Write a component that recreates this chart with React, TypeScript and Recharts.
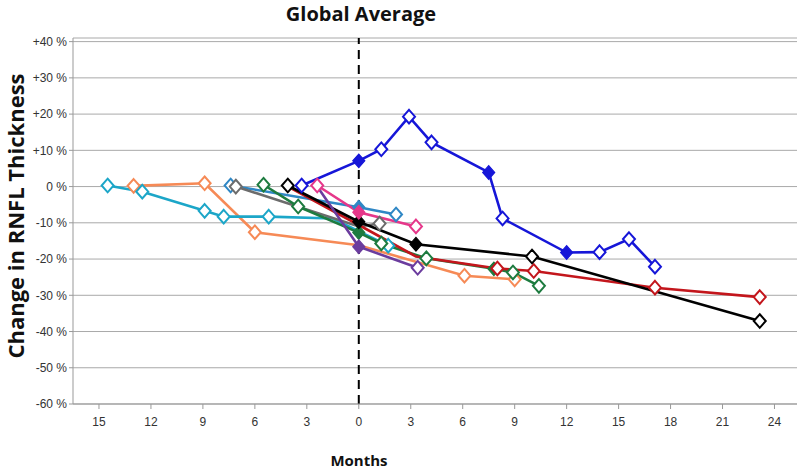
import React from 'react';
import { LineChart, Line, XAxis, YAxis, CartesianGrid, ReferenceLine } from 'recharts';

type P = { m: number; v: number; f?: boolean; h?: boolean };

// Months relative to event (negative = before), change in RNFL thickness (%)
const cyan: P[] = [
  { m: -14.5, v: 0.3 }, { m: -12.5, v: -1.4 }, { m: -8.9, v: -6.7 }, { m: -7.8, v: -8.3 },
  { m: -5.2, v: -8.3 }, { m: -1.5, v: -8.8, h: true }, { m: 1.7, v: -16.3 },
];
const orange: P[] = [
  { m: -13.0, v: 0.2 }, { m: -8.9, v: 0.9 }, { m: -6.0, v: -12.6 }, { m: 0, v: -16.2, h: true },
  { m: 6.1, v: -24.6 }, { m: 9.0, v: -25.6 },
];
const steel: P[] = [{ m: -7.4, v: 0.3 }, { m: 0, v: -5.7, f: true }, { m: 2.15, v: -7.7 }];
const gray: P[] = [{ m: -7.1, v: 0 }, { m: 0, v: -11.0, h: true }, { m: 1.2, v: -10.2 }];
const green: P[] = [
  { m: -5.5, v: 0.5 }, { m: -3.5, v: -5.5 }, { m: 0, v: -12.7, f: true }, { m: 1.3, v: -15.7 },
  { m: 3.9, v: -19.8 }, { m: 7.8, v: -22.7, f: true }, { m: 8.9, v: -23.7 }, { m: 10.4, v: -27.4 },
];
const red: P[] = [
  { m: -3.9, v: -0.5, h: true }, { m: 0, v: -10.6, h: true }, { m: 3.3, v: -19.3, h: true },
  { m: 8.0, v: -22.6 }, { m: 10.1, v: -23.3 }, { m: 17.1, v: -27.9 }, { m: 23.15, v: -30.5 },
];
const black: P[] = [
  { m: -4.1, v: 0.3 }, { m: 0, v: -9.7, f: true }, { m: 3.3, v: -15.9, f: true },
  { m: 10.0, v: -19.3 }, { m: 23.15, v: -37.1 },
];
const purple: P[] = [{ m: -2.4, v: 0, h: true }, { m: 0, v: -16.6, f: true }, { m: 3.4, v: -22.4 }];
const pink: P[] = [{ m: -2.4, v: 0.3 }, { m: 0, v: -7.1, f: true }, { m: 3.3, v: -11.0 }];
const blue: P[] = [
  { m: -3.3, v: 0.3 }, { m: 0, v: 7.1, f: true }, { m: 1.3, v: 10.3 }, { m: 2.9, v: 19.3 },
  { m: 4.2, v: 12.2 }, { m: 7.5, v: 3.9, f: true }, { m: 8.3, v: -8.8 }, { m: 12.0, v: -18.2, f: true },
  { m: 13.9, v: -18.1 }, { m: 15.6, v: -14.5 }, { m: 17.1, v: -22.1 },
];

const xTicks = [-15, -12, -9, -6, -3, 0, 3, 6, 9, 12, 15, 18, 21, 24];
const yTicks = [-60, -50, -40, -30, -20, -10, 0, 10, 20, 30, 40];

const seriesList: { name: string; data: P[]; color: string }[] = [
  { name: 'orange', data: orange, color: '#f68a56' },
  { name: 'cyan', data: cyan, color: '#1ca6c8' },
  { name: 'steel', data: steel, color: '#2f87c5' },
  { name: 'gray', data: gray, color: '#6c6c6c' },
  { name: 'green', data: green, color: '#1d7b3f' },
  { name: 'red', data: red, color: '#c3161c' },
  { name: 'black', data: black, color: '#000000' },
  { name: 'purple', data: purple, color: '#6b3c9e' },
  { name: 'pink', data: pink, color: '#e6378a' },
  { name: 'blue', data: blue, color: '#1616d8' },
];

const makeDot = (name: string, color: string) => (props: any) => {
  const { cx, cy, payload, index } = props;
  const k = `${name}-${index}`;
  if (cx == null || cy == null || payload?.h) return <g key={k} />;
  const w = 6;
  const h = 6.8;
  const d = `M${cx},${cy - h} L${cx + w},${cy} L${cx},${cy + h} L${cx - w},${cy} Z`;
  if (payload?.f) {
    return <path key={k} d={d} fill={color} stroke={color} strokeWidth={1.2} />;
  }
  return <path key={k} d={d} fill="#ffffff" stroke={color} strokeWidth={2} />;
};

const tickFont = "'Liberation Sans Narrow', 'Liberation Sans', sans-serif";
const boldFont = "'Open Sans', 'Liberation Sans', sans-serif";

export default function App() {
  return (
    <div style={{ position: 'relative', width: 800, height: 470, background: '#fff' }}>
      <style>{'body{margin:0}'}</style>
      <LineChart width={800} height={470} margin={{ top: 38, right: 3, bottom: 0, left: 0 }}>
        <CartesianGrid vertical={false} stroke="#a9a9a9" strokeWidth={1} />
        <XAxis
          type="number"
          dataKey="m"
          domain={[-16.5, 25.3]}
          ticks={xTicks}
          allowDataOverflow
          height={66}
          tickFormatter={(v: number) => String(Math.abs(v))}
          tick={{ fontFamily: tickFont, fontSize: 12, fill: '#333' }}
          tickSize={5}
          tickMargin={8}
          stroke="#999"
        />
        <YAxis
          type="number"
          domain={[-60, 41]}
          ticks={yTicks}
          allowDataOverflow
          width={73}
          tickFormatter={(v: number) => (v > 0 ? `+${v} %` : `${v} %`)}
          tick={{ fontFamily: tickFont, fontSize: 12, fill: '#333' }}
          tickSize={4}
          tickMargin={2}
          stroke="#999"
        />
        <ReferenceLine x={0} stroke="#000" strokeWidth={2} strokeDasharray="9 6" />
        {seriesList.map((s) => (
          <Line
            key={s.name}
            data={s.data}
            dataKey="v"
            type="linear"
            stroke={s.color}
            strokeWidth={2.6}
            dot={makeDot(s.name, s.color)}
            activeDot={false}
            isAnimationActive={false}
          />
        ))}
      </LineChart>
      <div
        style={{
          position: 'absolute', left: 211, width: 300, top: 1, textAlign: 'center',
          fontFamily: boldFont, fontWeight: 700, fontSize: 20, lineHeight: '26px', color: '#111',
        }}
      >
        Global Average
      </div>
      <div
        style={{
          position: 'absolute', left: 309, width: 100, top: 450, textAlign: 'center',
          fontFamily: boldFont, fontWeight: 700, fontSize: 15, color: '#111',
        }}
      >
        Months
      </div>
      <div
        style={{
          position: 'absolute', left: 15, top: 216, width: 0, height: 0,
        }}
      >
        <div
          style={{
            position: 'absolute', left: -200, top: -15, width: 400, textAlign: 'center',
            transform: 'rotate(-90deg)', fontFamily: boldFont, fontWeight: 700, fontSize: 22,
            color: '#111', whiteSpace: 'nowrap', lineHeight: '30px',
          }}
        >
          Change in RNFL Thickness
        </div>
      </div>
    </div>
  );
}
